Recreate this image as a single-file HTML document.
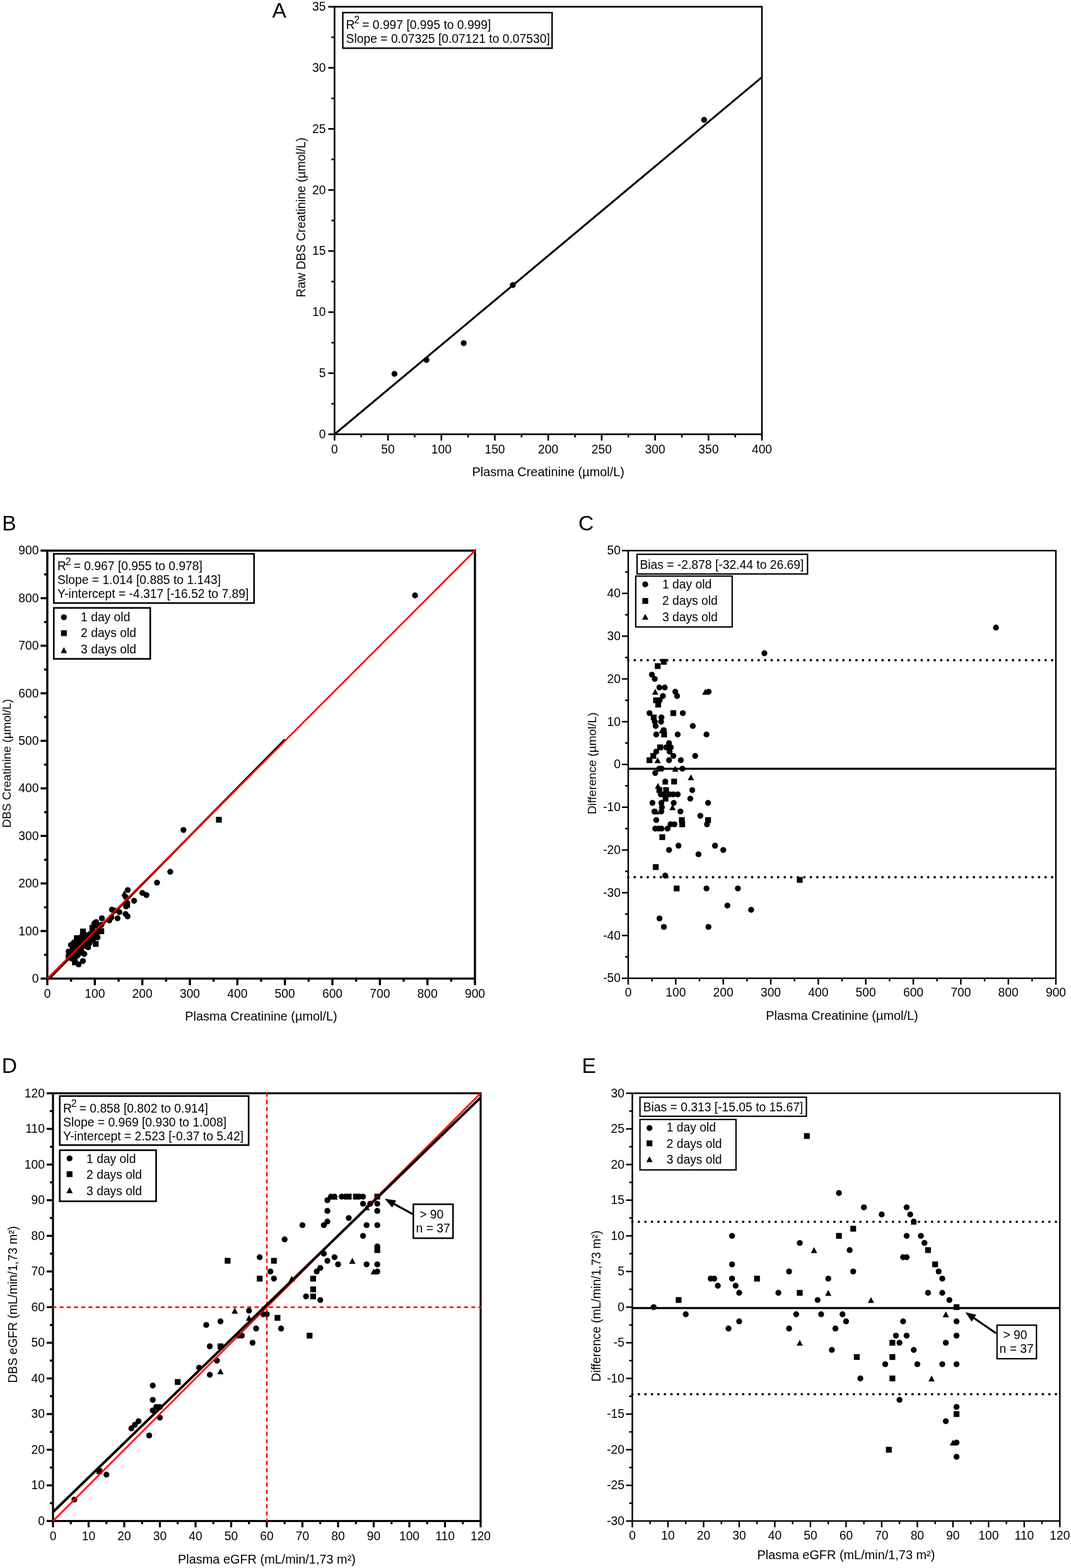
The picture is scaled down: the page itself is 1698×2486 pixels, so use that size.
<!DOCTYPE html><html><head><meta charset="utf-8"><style>html,body{margin:0;padding:0;background:#fff;}svg{display:block;}</style></head><body>
<svg width="1698" height="2486" viewBox="0 0 1698 2486" font-family="'Liberation Sans', Arial, sans-serif" fill="#000">
<rect width="1698" height="2486" fill="#fff"/>
<text x="431.6" y="27.9" font-size="33.7" text-anchor="start" >A</text>
<rect x="530.4" y="10.7" width="677.6" height="677.8" fill="none" stroke="#000" stroke-width="2.6" stroke-linejoin="miter"/>
<line x1="530.4" y1="688.5" x2="530.4" y2="698.5" stroke="#000" stroke-width="2.6" />
<text x="530.4" y="718.5" font-size="19.3" text-anchor="middle" >0</text>
<line x1="572.75" y1="688.5" x2="572.75" y2="693.5" stroke="#000" stroke-width="2.6" />
<line x1="615.1" y1="688.5" x2="615.1" y2="698.5" stroke="#000" stroke-width="2.6" />
<text x="615.1" y="718.5" font-size="19.3" text-anchor="middle" >50</text>
<line x1="657.45" y1="688.5" x2="657.45" y2="693.5" stroke="#000" stroke-width="2.6" />
<line x1="699.8" y1="688.5" x2="699.8" y2="698.5" stroke="#000" stroke-width="2.6" />
<text x="699.8" y="718.5" font-size="19.3" text-anchor="middle" >100</text>
<line x1="742.15" y1="688.5" x2="742.15" y2="693.5" stroke="#000" stroke-width="2.6" />
<line x1="784.5" y1="688.5" x2="784.5" y2="698.5" stroke="#000" stroke-width="2.6" />
<text x="784.5" y="718.5" font-size="19.3" text-anchor="middle" >150</text>
<line x1="826.85" y1="688.5" x2="826.85" y2="693.5" stroke="#000" stroke-width="2.6" />
<line x1="869.2" y1="688.5" x2="869.2" y2="698.5" stroke="#000" stroke-width="2.6" />
<text x="869.2" y="718.5" font-size="19.3" text-anchor="middle" >200</text>
<line x1="911.55" y1="688.5" x2="911.55" y2="693.5" stroke="#000" stroke-width="2.6" />
<line x1="953.9" y1="688.5" x2="953.9" y2="698.5" stroke="#000" stroke-width="2.6" />
<text x="953.9" y="718.5" font-size="19.3" text-anchor="middle" >250</text>
<line x1="996.25" y1="688.5" x2="996.25" y2="693.5" stroke="#000" stroke-width="2.6" />
<line x1="1038.6" y1="688.5" x2="1038.6" y2="698.5" stroke="#000" stroke-width="2.6" />
<text x="1038.6" y="718.5" font-size="19.3" text-anchor="middle" >300</text>
<line x1="1080.95" y1="688.5" x2="1080.95" y2="693.5" stroke="#000" stroke-width="2.6" />
<line x1="1123.3" y1="688.5" x2="1123.3" y2="698.5" stroke="#000" stroke-width="2.6" />
<text x="1123.3" y="718.5" font-size="19.3" text-anchor="middle" >350</text>
<line x1="1165.65" y1="688.5" x2="1165.65" y2="693.5" stroke="#000" stroke-width="2.6" />
<line x1="1208" y1="688.5" x2="1208" y2="698.5" stroke="#000" stroke-width="2.6" />
<text x="1208" y="718.5" font-size="19.3" text-anchor="middle" >400</text>
<line x1="520.4" y1="688.5" x2="530.4" y2="688.5" stroke="#000" stroke-width="2.6" />
<text x="516.4" y="694.9" font-size="19.3" text-anchor="end" >0</text>
<line x1="525.4" y1="640.09" x2="530.4" y2="640.09" stroke="#000" stroke-width="2.6" />
<line x1="520.4" y1="591.67" x2="530.4" y2="591.67" stroke="#000" stroke-width="2.6" />
<text x="516.4" y="598.07" font-size="19.3" text-anchor="end" >5</text>
<line x1="525.4" y1="543.26" x2="530.4" y2="543.26" stroke="#000" stroke-width="2.6" />
<line x1="520.4" y1="494.84" x2="530.4" y2="494.84" stroke="#000" stroke-width="2.6" />
<text x="516.4" y="501.24" font-size="19.3" text-anchor="end" >10</text>
<line x1="525.4" y1="446.43" x2="530.4" y2="446.43" stroke="#000" stroke-width="2.6" />
<line x1="520.4" y1="398.01" x2="530.4" y2="398.01" stroke="#000" stroke-width="2.6" />
<text x="516.4" y="404.41" font-size="19.3" text-anchor="end" >15</text>
<line x1="525.4" y1="349.6" x2="530.4" y2="349.6" stroke="#000" stroke-width="2.6" />
<line x1="520.4" y1="301.19" x2="530.4" y2="301.19" stroke="#000" stroke-width="2.6" />
<text x="516.4" y="307.59" font-size="19.3" text-anchor="end" >20</text>
<line x1="525.4" y1="252.77" x2="530.4" y2="252.77" stroke="#000" stroke-width="2.6" />
<line x1="520.4" y1="204.36" x2="530.4" y2="204.36" stroke="#000" stroke-width="2.6" />
<text x="516.4" y="210.76" font-size="19.3" text-anchor="end" >25</text>
<line x1="525.4" y1="155.94" x2="530.4" y2="155.94" stroke="#000" stroke-width="2.6" />
<line x1="520.4" y1="107.53" x2="530.4" y2="107.53" stroke="#000" stroke-width="2.6" />
<text x="516.4" y="113.93" font-size="19.3" text-anchor="end" >30</text>
<line x1="525.4" y1="59.11" x2="530.4" y2="59.11" stroke="#000" stroke-width="2.6" />
<line x1="520.4" y1="10.7" x2="530.4" y2="10.7" stroke="#000" stroke-width="2.6" />
<text x="516.4" y="17.1" font-size="19.3" text-anchor="end" >35</text>
<line x1="530.4" y1="688.5" x2="1208" y2="122.3" stroke="#000" stroke-width="3" />
<circle cx="625.4" cy="592.8" r="4.7"/>
<circle cx="676.2" cy="570.7" r="4.7"/>
<circle cx="735.2" cy="544" r="4.7"/>
<circle cx="813" cy="452" r="4.7"/>
<circle cx="1116.3" cy="190" r="4.7"/>
<rect x="543.5" y="20" width="331.8" height="56.4" fill="none" stroke="#000" stroke-width="2.4"/>
<text x="548.6" y="45.9" font-size="19.3">R<tspan font-size="15.8" dx="-1.3" dy="-8.6">2</tspan><tspan dy="8.6" dx="-1.2"> </tspan>= 0.997 [0.995 to 0.999]</text>
<text x="548.6" y="67.9" font-size="19.3" text-anchor="start" >Slope = 0.07325 [0.07121 to 0.07530]</text>
<text x="869.2" y="754.85" font-size="19.9" text-anchor="middle" >Plasma Creatinine (µmol/L)</text>
<text x="484" y="344.6" font-size="19.3" text-anchor="middle" transform="rotate(-90 484 344.6)">Raw DBS Creatinine (µmol/L)</text>
<text x="3.3" y="840.8" font-size="33.7" text-anchor="start" >B</text>
<rect x="75" y="873" width="678" height="678.5" fill="none" stroke="#000" stroke-width="3.4" stroke-linejoin="miter"/>
<line x1="75" y1="1551.5" x2="75" y2="1562.1" stroke="#000" stroke-width="3.4" />
<text x="75" y="1581.6" font-size="19.3" text-anchor="middle" >0</text>
<line x1="112.67" y1="1551.5" x2="112.67" y2="1556.5" stroke="#000" stroke-width="3.4" />
<line x1="150.33" y1="1551.5" x2="150.33" y2="1562.1" stroke="#000" stroke-width="3.4" />
<text x="150.33" y="1581.6" font-size="19.3" text-anchor="middle" >100</text>
<line x1="188" y1="1551.5" x2="188" y2="1556.5" stroke="#000" stroke-width="3.4" />
<line x1="225.67" y1="1551.5" x2="225.67" y2="1562.1" stroke="#000" stroke-width="3.4" />
<text x="225.67" y="1581.6" font-size="19.3" text-anchor="middle" >200</text>
<line x1="263.33" y1="1551.5" x2="263.33" y2="1556.5" stroke="#000" stroke-width="3.4" />
<line x1="301" y1="1551.5" x2="301" y2="1562.1" stroke="#000" stroke-width="3.4" />
<text x="301" y="1581.6" font-size="19.3" text-anchor="middle" >300</text>
<line x1="338.67" y1="1551.5" x2="338.67" y2="1556.5" stroke="#000" stroke-width="3.4" />
<line x1="376.33" y1="1551.5" x2="376.33" y2="1562.1" stroke="#000" stroke-width="3.4" />
<text x="376.33" y="1581.6" font-size="19.3" text-anchor="middle" >400</text>
<line x1="414" y1="1551.5" x2="414" y2="1556.5" stroke="#000" stroke-width="3.4" />
<line x1="451.67" y1="1551.5" x2="451.67" y2="1562.1" stroke="#000" stroke-width="3.4" />
<text x="451.67" y="1581.6" font-size="19.3" text-anchor="middle" >500</text>
<line x1="489.33" y1="1551.5" x2="489.33" y2="1556.5" stroke="#000" stroke-width="3.4" />
<line x1="527" y1="1551.5" x2="527" y2="1562.1" stroke="#000" stroke-width="3.4" />
<text x="527" y="1581.6" font-size="19.3" text-anchor="middle" >600</text>
<line x1="564.67" y1="1551.5" x2="564.67" y2="1556.5" stroke="#000" stroke-width="3.4" />
<line x1="602.33" y1="1551.5" x2="602.33" y2="1562.1" stroke="#000" stroke-width="3.4" />
<text x="602.33" y="1581.6" font-size="19.3" text-anchor="middle" >700</text>
<line x1="640" y1="1551.5" x2="640" y2="1556.5" stroke="#000" stroke-width="3.4" />
<line x1="677.67" y1="1551.5" x2="677.67" y2="1562.1" stroke="#000" stroke-width="3.4" />
<text x="677.67" y="1581.6" font-size="19.3" text-anchor="middle" >800</text>
<line x1="715.33" y1="1551.5" x2="715.33" y2="1556.5" stroke="#000" stroke-width="3.4" />
<line x1="753" y1="1551.5" x2="753" y2="1562.1" stroke="#000" stroke-width="3.4" />
<text x="753" y="1581.6" font-size="19.3" text-anchor="middle" >900</text>
<line x1="64.4" y1="1551.5" x2="75" y2="1551.5" stroke="#000" stroke-width="3.4" />
<text x="61.4" y="1557.9" font-size="19.3" text-anchor="end" >0</text>
<line x1="70" y1="1513.81" x2="75" y2="1513.81" stroke="#000" stroke-width="3.4" />
<line x1="64.4" y1="1476.11" x2="75" y2="1476.11" stroke="#000" stroke-width="3.4" />
<text x="61.4" y="1482.51" font-size="19.3" text-anchor="end" >100</text>
<line x1="70" y1="1438.42" x2="75" y2="1438.42" stroke="#000" stroke-width="3.4" />
<line x1="64.4" y1="1400.72" x2="75" y2="1400.72" stroke="#000" stroke-width="3.4" />
<text x="61.4" y="1407.12" font-size="19.3" text-anchor="end" >200</text>
<line x1="70" y1="1363.03" x2="75" y2="1363.03" stroke="#000" stroke-width="3.4" />
<line x1="64.4" y1="1325.33" x2="75" y2="1325.33" stroke="#000" stroke-width="3.4" />
<text x="61.4" y="1331.73" font-size="19.3" text-anchor="end" >300</text>
<line x1="70" y1="1287.64" x2="75" y2="1287.64" stroke="#000" stroke-width="3.4" />
<line x1="64.4" y1="1249.94" x2="75" y2="1249.94" stroke="#000" stroke-width="3.4" />
<text x="61.4" y="1256.34" font-size="19.3" text-anchor="end" >400</text>
<line x1="70" y1="1212.25" x2="75" y2="1212.25" stroke="#000" stroke-width="3.4" />
<line x1="64.4" y1="1174.56" x2="75" y2="1174.56" stroke="#000" stroke-width="3.4" />
<text x="61.4" y="1180.96" font-size="19.3" text-anchor="end" >500</text>
<line x1="70" y1="1136.86" x2="75" y2="1136.86" stroke="#000" stroke-width="3.4" />
<line x1="64.4" y1="1099.17" x2="75" y2="1099.17" stroke="#000" stroke-width="3.4" />
<text x="61.4" y="1105.57" font-size="19.3" text-anchor="end" >600</text>
<line x1="70" y1="1061.47" x2="75" y2="1061.47" stroke="#000" stroke-width="3.4" />
<line x1="64.4" y1="1023.78" x2="75" y2="1023.78" stroke="#000" stroke-width="3.4" />
<text x="61.4" y="1030.18" font-size="19.3" text-anchor="end" >700</text>
<line x1="70" y1="986.08" x2="75" y2="986.08" stroke="#000" stroke-width="3.4" />
<line x1="64.4" y1="948.39" x2="75" y2="948.39" stroke="#000" stroke-width="3.4" />
<text x="61.4" y="954.79" font-size="19.3" text-anchor="end" >800</text>
<line x1="70" y1="910.69" x2="75" y2="910.69" stroke="#000" stroke-width="3.4" />
<line x1="64.4" y1="873" x2="75" y2="873" stroke="#000" stroke-width="3.4" />
<text x="61.4" y="879.4" font-size="19.3" text-anchor="end" >900</text>
<g>
<rect x="126.9" y="1472.27" width="9.2" height="9.2"/>
<rect x="117.2" y="1482.73" width="9.2" height="9.2"/>
<circle cx="112.5" cy="1498.14" r="4.7"/>
<circle cx="117.1" cy="1494.29" r="4.7"/>
<circle cx="124.4" cy="1488.49" r="4.7"/>
<circle cx="132.9" cy="1479.99" r="4.7"/>
<path d="M117.8 1491.15L122.8 1500.55L112.8 1500.55Z"/>
<circle cx="149.6" cy="1464.03" r="4.7"/>
<path d="M197.2 1411.69L202.2 1421.09L192.2 1421.09Z"/>
<circle cx="202.5" cy="1411.09" r="4.7"/>
<circle cx="130" cy="1484.4" r="4.7"/>
<circle cx="152.5" cy="1461.88" r="4.7"/>
<rect x="114.5" y="1491.46" width="9.2" height="9.2"/>
<circle cx="124.9" cy="1490.25" r="4.7"/>
<rect x="117.9" y="1488.81" width="9.2" height="9.2"/>
<circle cx="108.8" cy="1508.63" r="4.7"/>
<rect x="141.9" y="1466.3" width="9.2" height="9.2"/>
<circle cx="161.5" cy="1455.89" r="4.7"/>
<rect x="110.8" y="1498.18" width="9.2" height="9.2"/>
<circle cx="127.7" cy="1490.47" r="4.7"/>
<circle cx="117.1" cy="1501.83" r="4.7"/>
<circle cx="127.1" cy="1491.82" r="4.7"/>
<circle cx="118.5" cy="1501.18" r="4.7"/>
<circle cx="177.4" cy="1442.24" r="4.7"/>
<path d="M128.4 1487.33L133.4 1496.73L123.4 1496.73Z"/>
<circle cx="131.5" cy="1488.93" r="4.7"/>
<circle cx="119.4" cy="1501.79" r="4.7"/>
<rect x="127.3" y="1484.68" width="9.2" height="9.2"/>
<circle cx="153.4" cy="1467.76" r="4.7"/>
<circle cx="199.1" cy="1422.03" r="4.7"/>
<circle cx="139.7" cy="1482.98" r="4.7"/>
<rect x="120.9" y="1493.35" width="9.2" height="9.2"/>
<circle cx="135" cy="1488.44" r="4.7"/>
<circle cx="142.5" cy="1480.93" r="4.7"/>
<circle cx="119.4" cy="1504.81" r="4.7"/>
<circle cx="140.5" cy="1483.69" r="4.7"/>
<rect x="110.1" y="1505.66" width="9.2" height="9.2"/>
<circle cx="146.5" cy="1478.44" r="4.7"/>
<circle cx="181.2" cy="1443.71" r="4.7"/>
<rect x="104.1" y="1512.42" width="9.2" height="9.2"/>
<path d="M121.6 1499.41L126.6 1508.81L116.6 1508.81Z"/>
<circle cx="139.7" cy="1486" r="4.7"/>
<circle cx="158.4" cy="1467.28" r="4.7"/>
<circle cx="124" cy="1503.22" r="4.7"/>
<circle cx="128" cy="1499.21" r="4.7"/>
<path d="M149.6 1472.9L154.6 1482.3L144.6 1482.3Z"/>
<circle cx="160.9" cy="1466.29" r="4.7"/>
<circle cx="117.8" cy="1510.18" r="4.7"/>
<path d="M174.4 1449.59L179.4 1458.99L169.4 1458.99Z"/>
<path d="M133.7 1491.07L138.7 1500.47L128.7 1500.47Z"/>
<circle cx="133.7" cy="1495.77" r="4.7"/>
<rect x="143.2" y="1477.06" width="9.2" height="9.2"/>
<path d="M122.2 1503.33L127.2 1512.73L117.2 1512.73Z"/>
<rect x="119.8" y="1501.99" width="9.2" height="9.2"/>
<rect x="130.4" y="1491.38" width="9.2" height="9.2"/>
<circle cx="176.5" cy="1454.45" r="4.7"/>
<circle cx="126.6" cy="1505.14" r="4.7"/>
<circle cx="132" cy="1499.74" r="4.7"/>
<circle cx="140.8" cy="1490.93" r="4.7"/>
<circle cx="146.5" cy="1485.22" r="4.7"/>
<circle cx="153.5" cy="1478.22" r="4.7"/>
<rect x="129.5" y="1493.79" width="9.2" height="9.2"/>
<circle cx="173.4" cy="1459.06" r="4.7"/>
<circle cx="113.4" cy="1519.86" r="4.7"/>
<circle cx="127.5" cy="1505.75" r="4.7"/>
<circle cx="147.2" cy="1486.03" r="4.7"/>
<circle cx="201.6" cy="1431.59" r="4.7"/>
<circle cx="128.4" cy="1505.6" r="4.7"/>
<path d="M145.2 1484.09L150.2 1493.49L140.2 1493.49Z"/>
<path d="M119.6 1510.46L124.6 1519.86L114.6 1519.86Z"/>
<circle cx="116.5" cy="1518.26" r="4.7"/>
<circle cx="127.5" cy="1507.25" r="4.7"/>
<circle cx="157.8" cy="1476.93" r="4.7"/>
<circle cx="189.3" cy="1446.16" r="4.7"/>
<circle cx="119.4" cy="1516.87" r="4.7"/>
<rect x="155.4" y="1471.64" width="9.2" height="9.2"/>
<rect x="197" y="1430.01" width="9.2" height="9.2"/>
<circle cx="142.1" cy="1494.9" r="4.7"/>
<circle cx="148.2" cy="1488.8" r="4.7"/>
<rect x="156" y="1471.79" width="9.2" height="9.2"/>
<circle cx="199.9" cy="1437.06" r="4.7"/>
<circle cx="117.8" cy="1519.98" r="4.7"/>
<circle cx="123.1" cy="1514.67" r="4.7"/>
<circle cx="128" cy="1509.77" r="4.7"/>
<circle cx="137.4" cy="1500.36" r="4.7"/>
<rect x="124.4" y="1505.68" width="9.2" height="9.2"/>
<circle cx="154.7" cy="1486.07" r="4.7"/>
<circle cx="212.6" cy="1428.12" r="4.7"/>
<circle cx="139.7" cy="1501.83" r="4.7"/>
<circle cx="225.7" cy="1415.77" r="4.7"/>
<circle cx="186.4" cy="1455.85" r="4.7"/>
<rect x="114.1" y="1521.26" width="9.2" height="9.2"/>
<circle cx="133.7" cy="1512.36" r="4.7"/>
<rect x="342.4" y="1295.05" width="9.2" height="9.2"/>
<rect x="147.2" y="1491.91" width="9.2" height="9.2"/>
<circle cx="199.1" cy="1449.17" r="4.7"/>
<circle cx="248.9" cy="1399.33" r="4.7"/>
<circle cx="232.2" cy="1419.06" r="4.7"/>
<circle cx="269.9" cy="1382.09" r="4.7"/>
<circle cx="124.6" cy="1529" r="4.7"/>
<circle cx="131.5" cy="1523.61" r="4.7"/>
<circle cx="202.2" cy="1452.85" r="4.7"/>
<circle cx="290.9" cy="1315.84" r="4.7"/>
<circle cx="658" cy="943.95" r="4.7"/>
</g>
<line x1="78.21" y1="1551.5" x2="451.67" y2="1172.53" stroke="#000" stroke-width="3.3" />
<line x1="75" y1="1551.5" x2="753" y2="873" stroke="#ff0000" stroke-width="2.6" />
<rect x="85.3" y="878.1" width="317.5" height="78" fill="none" stroke="#000" stroke-width="2.6"/>
<text x="91.1" y="904.1" font-size="19.3">R<tspan font-size="15.8" dx="-1.3" dy="-8.6">2</tspan><tspan dy="8.6" dx="-1.2"> </tspan>= 0.967 [0.955 to 0.978]</text>
<text x="91.1" y="925.8" font-size="19.3" text-anchor="start" >Slope = 1.014 [0.885 to 1.143]</text>
<text x="91.1" y="947.6" font-size="19.3" text-anchor="start" >Y-intercept = -4.317 [-16.52 to 7.89]</text>
<rect x="85.3" y="963.8" width="152.9" height="80.8" fill="none" stroke="#000" stroke-width="2.6"/>
<circle cx="101.3" cy="978.6" r="4.7"/>
<text x="128.1" y="984.6" font-size="19.3" text-anchor="start" >1 day old</text>
<rect x="96.7" y="999.3" width="9.2" height="9.2"/>
<text x="128.1" y="1010.3" font-size="19.3" text-anchor="start" >2 days old</text>
<path d="M101.3 1026L106.3 1035.4L96.3 1035.4Z"/>
<text x="128.1" y="1036" font-size="19.3" text-anchor="start" >3 days old</text>
<text x="414" y="1617.9" font-size="19.9" text-anchor="middle" >Plasma Creatinine (µmol/L)</text>
<text x="17.5" y="1210.3" font-size="18.8" text-anchor="middle" transform="rotate(-90 17.5 1210.3)">DBS Creatinine (µmol/L)</text>
<text x="916.9" y="841" font-size="33.7" text-anchor="start" >C</text>
<rect x="996" y="873" width="678" height="678" fill="none" stroke="#000" stroke-width="2.4" stroke-linejoin="miter"/>
<line x1="996" y1="1551" x2="996" y2="1561" stroke="#000" stroke-width="2.4" />
<text x="996" y="1580.4" font-size="19.3" text-anchor="middle" >0</text>
<line x1="1033.67" y1="1551" x2="1033.67" y2="1556" stroke="#000" stroke-width="2.4" />
<line x1="1071.33" y1="1551" x2="1071.33" y2="1561" stroke="#000" stroke-width="2.4" />
<text x="1071.33" y="1580.4" font-size="19.3" text-anchor="middle" >100</text>
<line x1="1109" y1="1551" x2="1109" y2="1556" stroke="#000" stroke-width="2.4" />
<line x1="1146.67" y1="1551" x2="1146.67" y2="1561" stroke="#000" stroke-width="2.4" />
<text x="1146.67" y="1580.4" font-size="19.3" text-anchor="middle" >200</text>
<line x1="1184.33" y1="1551" x2="1184.33" y2="1556" stroke="#000" stroke-width="2.4" />
<line x1="1222" y1="1551" x2="1222" y2="1561" stroke="#000" stroke-width="2.4" />
<text x="1222" y="1580.4" font-size="19.3" text-anchor="middle" >300</text>
<line x1="1259.67" y1="1551" x2="1259.67" y2="1556" stroke="#000" stroke-width="2.4" />
<line x1="1297.33" y1="1551" x2="1297.33" y2="1561" stroke="#000" stroke-width="2.4" />
<text x="1297.33" y="1580.4" font-size="19.3" text-anchor="middle" >400</text>
<line x1="1335" y1="1551" x2="1335" y2="1556" stroke="#000" stroke-width="2.4" />
<line x1="1372.67" y1="1551" x2="1372.67" y2="1561" stroke="#000" stroke-width="2.4" />
<text x="1372.67" y="1580.4" font-size="19.3" text-anchor="middle" >500</text>
<line x1="1410.33" y1="1551" x2="1410.33" y2="1556" stroke="#000" stroke-width="2.4" />
<line x1="1448" y1="1551" x2="1448" y2="1561" stroke="#000" stroke-width="2.4" />
<text x="1448" y="1580.4" font-size="19.3" text-anchor="middle" >600</text>
<line x1="1485.67" y1="1551" x2="1485.67" y2="1556" stroke="#000" stroke-width="2.4" />
<line x1="1523.33" y1="1551" x2="1523.33" y2="1561" stroke="#000" stroke-width="2.4" />
<text x="1523.33" y="1580.4" font-size="19.3" text-anchor="middle" >700</text>
<line x1="1561" y1="1551" x2="1561" y2="1556" stroke="#000" stroke-width="2.4" />
<line x1="1598.67" y1="1551" x2="1598.67" y2="1561" stroke="#000" stroke-width="2.4" />
<text x="1598.67" y="1580.4" font-size="19.3" text-anchor="middle" >800</text>
<line x1="1636.33" y1="1551" x2="1636.33" y2="1556" stroke="#000" stroke-width="2.4" />
<line x1="1674" y1="1551" x2="1674" y2="1561" stroke="#000" stroke-width="2.4" />
<text x="1674" y="1580.4" font-size="19.3" text-anchor="middle" >900</text>
<line x1="986" y1="1551" x2="996" y2="1551" stroke="#000" stroke-width="2.4" />
<text x="984" y="1557.4" font-size="19.3" text-anchor="end" >-50</text>
<line x1="991" y1="1517.1" x2="996" y2="1517.1" stroke="#000" stroke-width="2.4" />
<line x1="986" y1="1483.2" x2="996" y2="1483.2" stroke="#000" stroke-width="2.4" />
<text x="984" y="1489.6" font-size="19.3" text-anchor="end" >-40</text>
<line x1="991" y1="1449.3" x2="996" y2="1449.3" stroke="#000" stroke-width="2.4" />
<line x1="986" y1="1415.4" x2="996" y2="1415.4" stroke="#000" stroke-width="2.4" />
<text x="984" y="1421.8" font-size="19.3" text-anchor="end" >-30</text>
<line x1="991" y1="1381.5" x2="996" y2="1381.5" stroke="#000" stroke-width="2.4" />
<line x1="986" y1="1347.6" x2="996" y2="1347.6" stroke="#000" stroke-width="2.4" />
<text x="984" y="1354" font-size="19.3" text-anchor="end" >-20</text>
<line x1="991" y1="1313.7" x2="996" y2="1313.7" stroke="#000" stroke-width="2.4" />
<line x1="986" y1="1279.8" x2="996" y2="1279.8" stroke="#000" stroke-width="2.4" />
<text x="984" y="1286.2" font-size="19.3" text-anchor="end" >-10</text>
<line x1="991" y1="1245.9" x2="996" y2="1245.9" stroke="#000" stroke-width="2.4" />
<line x1="986" y1="1212" x2="996" y2="1212" stroke="#000" stroke-width="2.4" />
<text x="984" y="1218.4" font-size="19.3" text-anchor="end" >0</text>
<line x1="991" y1="1178.1" x2="996" y2="1178.1" stroke="#000" stroke-width="2.4" />
<line x1="986" y1="1144.2" x2="996" y2="1144.2" stroke="#000" stroke-width="2.4" />
<text x="984" y="1150.6" font-size="19.3" text-anchor="end" >10</text>
<line x1="991" y1="1110.3" x2="996" y2="1110.3" stroke="#000" stroke-width="2.4" />
<line x1="986" y1="1076.4" x2="996" y2="1076.4" stroke="#000" stroke-width="2.4" />
<text x="984" y="1082.8" font-size="19.3" text-anchor="end" >20</text>
<line x1="991" y1="1042.5" x2="996" y2="1042.5" stroke="#000" stroke-width="2.4" />
<line x1="986" y1="1008.6" x2="996" y2="1008.6" stroke="#000" stroke-width="2.4" />
<text x="984" y="1015" font-size="19.3" text-anchor="end" >30</text>
<line x1="991" y1="974.7" x2="996" y2="974.7" stroke="#000" stroke-width="2.4" />
<line x1="986" y1="940.8" x2="996" y2="940.8" stroke="#000" stroke-width="2.4" />
<text x="984" y="947.2" font-size="19.3" text-anchor="end" >40</text>
<line x1="991" y1="906.9" x2="996" y2="906.9" stroke="#000" stroke-width="2.4" />
<line x1="986" y1="873" x2="996" y2="873" stroke="#000" stroke-width="2.4" />
<text x="984" y="879.4" font-size="19.3" text-anchor="end" >50</text>
<g><circle cx="996" cy="1046.8" r="1.95"/><circle cx="1006.34" cy="1046.8" r="1.95"/><circle cx="1016.68" cy="1046.8" r="1.95"/><circle cx="1027.02" cy="1046.8" r="1.95"/><circle cx="1037.36" cy="1046.8" r="1.95"/><circle cx="1047.7" cy="1046.8" r="1.95"/><circle cx="1058.04" cy="1046.8" r="1.95"/><circle cx="1068.38" cy="1046.8" r="1.95"/><circle cx="1078.72" cy="1046.8" r="1.95"/><circle cx="1089.06" cy="1046.8" r="1.95"/><circle cx="1099.4" cy="1046.8" r="1.95"/><circle cx="1109.74" cy="1046.8" r="1.95"/><circle cx="1120.08" cy="1046.8" r="1.95"/><circle cx="1130.42" cy="1046.8" r="1.95"/><circle cx="1140.76" cy="1046.8" r="1.95"/><circle cx="1151.1" cy="1046.8" r="1.95"/><circle cx="1161.44" cy="1046.8" r="1.95"/><circle cx="1171.78" cy="1046.8" r="1.95"/><circle cx="1182.12" cy="1046.8" r="1.95"/><circle cx="1192.46" cy="1046.8" r="1.95"/><circle cx="1202.8" cy="1046.8" r="1.95"/><circle cx="1213.14" cy="1046.8" r="1.95"/><circle cx="1223.48" cy="1046.8" r="1.95"/><circle cx="1233.82" cy="1046.8" r="1.95"/><circle cx="1244.16" cy="1046.8" r="1.95"/><circle cx="1254.5" cy="1046.8" r="1.95"/><circle cx="1264.84" cy="1046.8" r="1.95"/><circle cx="1275.18" cy="1046.8" r="1.95"/><circle cx="1285.52" cy="1046.8" r="1.95"/><circle cx="1295.86" cy="1046.8" r="1.95"/><circle cx="1306.2" cy="1046.8" r="1.95"/><circle cx="1316.54" cy="1046.8" r="1.95"/><circle cx="1326.88" cy="1046.8" r="1.95"/><circle cx="1337.22" cy="1046.8" r="1.95"/><circle cx="1347.56" cy="1046.8" r="1.95"/><circle cx="1357.9" cy="1046.8" r="1.95"/><circle cx="1368.24" cy="1046.8" r="1.95"/><circle cx="1378.58" cy="1046.8" r="1.95"/><circle cx="1388.92" cy="1046.8" r="1.95"/><circle cx="1399.26" cy="1046.8" r="1.95"/><circle cx="1409.6" cy="1046.8" r="1.95"/><circle cx="1419.94" cy="1046.8" r="1.95"/><circle cx="1430.28" cy="1046.8" r="1.95"/><circle cx="1440.62" cy="1046.8" r="1.95"/><circle cx="1450.96" cy="1046.8" r="1.95"/><circle cx="1461.3" cy="1046.8" r="1.95"/><circle cx="1471.64" cy="1046.8" r="1.95"/><circle cx="1481.98" cy="1046.8" r="1.95"/><circle cx="1492.32" cy="1046.8" r="1.95"/><circle cx="1502.66" cy="1046.8" r="1.95"/><circle cx="1513" cy="1046.8" r="1.95"/><circle cx="1523.34" cy="1046.8" r="1.95"/><circle cx="1533.68" cy="1046.8" r="1.95"/><circle cx="1544.02" cy="1046.8" r="1.95"/><circle cx="1554.36" cy="1046.8" r="1.95"/><circle cx="1564.7" cy="1046.8" r="1.95"/><circle cx="1575.04" cy="1046.8" r="1.95"/><circle cx="1585.38" cy="1046.8" r="1.95"/><circle cx="1595.72" cy="1046.8" r="1.95"/><circle cx="1606.06" cy="1046.8" r="1.95"/><circle cx="1616.4" cy="1046.8" r="1.95"/><circle cx="1626.74" cy="1046.8" r="1.95"/><circle cx="1637.08" cy="1046.8" r="1.95"/><circle cx="1647.42" cy="1046.8" r="1.95"/><circle cx="1657.76" cy="1046.8" r="1.95"/><circle cx="1668.1" cy="1046.8" r="1.95"/></g>
<g><circle cx="996" cy="1390.7" r="1.95"/><circle cx="1006.34" cy="1390.7" r="1.95"/><circle cx="1016.68" cy="1390.7" r="1.95"/><circle cx="1027.02" cy="1390.7" r="1.95"/><circle cx="1037.36" cy="1390.7" r="1.95"/><circle cx="1047.7" cy="1390.7" r="1.95"/><circle cx="1058.04" cy="1390.7" r="1.95"/><circle cx="1068.38" cy="1390.7" r="1.95"/><circle cx="1078.72" cy="1390.7" r="1.95"/><circle cx="1089.06" cy="1390.7" r="1.95"/><circle cx="1099.4" cy="1390.7" r="1.95"/><circle cx="1109.74" cy="1390.7" r="1.95"/><circle cx="1120.08" cy="1390.7" r="1.95"/><circle cx="1130.42" cy="1390.7" r="1.95"/><circle cx="1140.76" cy="1390.7" r="1.95"/><circle cx="1151.1" cy="1390.7" r="1.95"/><circle cx="1161.44" cy="1390.7" r="1.95"/><circle cx="1171.78" cy="1390.7" r="1.95"/><circle cx="1182.12" cy="1390.7" r="1.95"/><circle cx="1192.46" cy="1390.7" r="1.95"/><circle cx="1202.8" cy="1390.7" r="1.95"/><circle cx="1213.14" cy="1390.7" r="1.95"/><circle cx="1223.48" cy="1390.7" r="1.95"/><circle cx="1233.82" cy="1390.7" r="1.95"/><circle cx="1244.16" cy="1390.7" r="1.95"/><circle cx="1254.5" cy="1390.7" r="1.95"/><circle cx="1264.84" cy="1390.7" r="1.95"/><circle cx="1275.18" cy="1390.7" r="1.95"/><circle cx="1285.52" cy="1390.7" r="1.95"/><circle cx="1295.86" cy="1390.7" r="1.95"/><circle cx="1306.2" cy="1390.7" r="1.95"/><circle cx="1316.54" cy="1390.7" r="1.95"/><circle cx="1326.88" cy="1390.7" r="1.95"/><circle cx="1337.22" cy="1390.7" r="1.95"/><circle cx="1347.56" cy="1390.7" r="1.95"/><circle cx="1357.9" cy="1390.7" r="1.95"/><circle cx="1368.24" cy="1390.7" r="1.95"/><circle cx="1378.58" cy="1390.7" r="1.95"/><circle cx="1388.92" cy="1390.7" r="1.95"/><circle cx="1399.26" cy="1390.7" r="1.95"/><circle cx="1409.6" cy="1390.7" r="1.95"/><circle cx="1419.94" cy="1390.7" r="1.95"/><circle cx="1430.28" cy="1390.7" r="1.95"/><circle cx="1440.62" cy="1390.7" r="1.95"/><circle cx="1450.96" cy="1390.7" r="1.95"/><circle cx="1461.3" cy="1390.7" r="1.95"/><circle cx="1471.64" cy="1390.7" r="1.95"/><circle cx="1481.98" cy="1390.7" r="1.95"/><circle cx="1492.32" cy="1390.7" r="1.95"/><circle cx="1502.66" cy="1390.7" r="1.95"/><circle cx="1513" cy="1390.7" r="1.95"/><circle cx="1523.34" cy="1390.7" r="1.95"/><circle cx="1533.68" cy="1390.7" r="1.95"/><circle cx="1544.02" cy="1390.7" r="1.95"/><circle cx="1554.36" cy="1390.7" r="1.95"/><circle cx="1564.7" cy="1390.7" r="1.95"/><circle cx="1575.04" cy="1390.7" r="1.95"/><circle cx="1585.38" cy="1390.7" r="1.95"/><circle cx="1595.72" cy="1390.7" r="1.95"/><circle cx="1606.06" cy="1390.7" r="1.95"/><circle cx="1616.4" cy="1390.7" r="1.95"/><circle cx="1626.74" cy="1390.7" r="1.95"/><circle cx="1637.08" cy="1390.7" r="1.95"/><circle cx="1647.42" cy="1390.7" r="1.95"/><circle cx="1657.76" cy="1390.7" r="1.95"/><circle cx="1668.1" cy="1390.7" r="1.95"/></g>
<line x1="996" y1="1218.8" x2="1674" y2="1218.8" stroke="#000" stroke-width="3.2" />
<g>
<rect x="1047.9" y="1044.68" width="9.2" height="9.2"/>
<rect x="1038.2" y="1051.46" width="9.2" height="9.2"/>
<circle cx="1033.5" cy="1069.62" r="4.7"/>
<circle cx="1038.1" cy="1076.4" r="4.7"/>
<circle cx="1045.4" cy="1089.96" r="4.7"/>
<circle cx="1053.9" cy="1089.96" r="4.7"/>
<path d="M1038.8 1092.04L1043.8 1101.44L1033.8 1101.44Z"/>
<circle cx="1070.6" cy="1096.74" r="4.7"/>
<path d="M1118.2 1092.04L1123.2 1101.44L1113.2 1101.44Z"/>
<circle cx="1123.5" cy="1096.74" r="4.7"/>
<circle cx="1051" cy="1103.52" r="4.7"/>
<circle cx="1073.5" cy="1103.52" r="4.7"/>
<rect x="1035.5" y="1105.7" width="9.2" height="9.2"/>
<circle cx="1045.9" cy="1110.3" r="4.7"/>
<rect x="1038.9" y="1112.48" width="9.2" height="9.2"/>
<circle cx="1029.8" cy="1130.64" r="4.7"/>
<rect x="1062.9" y="1126.04" width="9.2" height="9.2"/>
<circle cx="1082.5" cy="1130.64" r="4.7"/>
<rect x="1031.8" y="1132.82" width="9.2" height="9.2"/>
<circle cx="1048.7" cy="1137.42" r="4.7"/>
<circle cx="1038.1" cy="1144.2" r="4.7"/>
<circle cx="1048.1" cy="1144.2" r="4.7"/>
<circle cx="1039.5" cy="1150.98" r="4.7"/>
<circle cx="1098.4" cy="1150.98" r="4.7"/>
<path d="M1049.4 1153.06L1054.4 1162.46L1044.4 1162.46Z"/>
<circle cx="1052.5" cy="1157.76" r="4.7"/>
<circle cx="1040.4" cy="1164.54" r="4.7"/>
<rect x="1048.3" y="1159.94" width="9.2" height="9.2"/>
<circle cx="1074.4" cy="1164.54" r="4.7"/>
<circle cx="1120.1" cy="1164.54" r="4.7"/>
<circle cx="1060.7" cy="1178.1" r="4.7"/>
<rect x="1041.9" y="1180.28" width="9.2" height="9.2"/>
<circle cx="1056" cy="1184.88" r="4.7"/>
<circle cx="1063.5" cy="1184.88" r="4.7"/>
<circle cx="1040.4" cy="1191.66" r="4.7"/>
<circle cx="1061.5" cy="1191.66" r="4.7"/>
<rect x="1031.1" y="1193.84" width="9.2" height="9.2"/>
<circle cx="1067.5" cy="1198.44" r="4.7"/>
<circle cx="1102.2" cy="1198.44" r="4.7"/>
<rect x="1025.1" y="1200.62" width="9.2" height="9.2"/>
<path d="M1042.6 1200.52L1047.6 1209.92L1037.6 1209.92Z"/>
<circle cx="1060.7" cy="1205.22" r="4.7"/>
<circle cx="1079.4" cy="1205.22" r="4.7"/>
<circle cx="1045" cy="1218.78" r="4.7"/>
<circle cx="1049" cy="1218.78" r="4.7"/>
<path d="M1070.6 1214.08L1075.6 1223.48L1065.6 1223.48Z"/>
<circle cx="1081.9" cy="1218.78" r="4.7"/>
<circle cx="1038.8" cy="1225.56" r="4.7"/>
<path d="M1095.4 1227.64L1100.4 1237.04L1090.4 1237.04Z"/>
<path d="M1054.7 1234.42L1059.7 1243.82L1049.7 1243.82Z"/>
<circle cx="1054.7" cy="1239.12" r="4.7"/>
<rect x="1064.2" y="1234.52" width="9.2" height="9.2"/>
<path d="M1043.2 1241.2L1048.2 1250.6L1038.2 1250.6Z"/>
<rect x="1040.8" y="1248.08" width="9.2" height="9.2"/>
<rect x="1051.4" y="1248.08" width="9.2" height="9.2"/>
<circle cx="1097.5" cy="1252.68" r="4.7"/>
<circle cx="1047.6" cy="1259.46" r="4.7"/>
<circle cx="1053" cy="1259.46" r="4.7"/>
<circle cx="1061.8" cy="1259.46" r="4.7"/>
<circle cx="1067.5" cy="1259.46" r="4.7"/>
<circle cx="1074.5" cy="1259.46" r="4.7"/>
<rect x="1050.5" y="1261.64" width="9.2" height="9.2"/>
<circle cx="1094.4" cy="1266.24" r="4.7"/>
<circle cx="1034.4" cy="1273.02" r="4.7"/>
<circle cx="1048.5" cy="1273.02" r="4.7"/>
<circle cx="1068.2" cy="1273.02" r="4.7"/>
<circle cx="1122.6" cy="1273.02" r="4.7"/>
<circle cx="1049.4" cy="1279.8" r="4.7"/>
<path d="M1066.2 1275.1L1071.2 1284.5L1061.2 1284.5Z"/>
<path d="M1040.6 1281.88L1045.6 1291.28L1035.6 1291.28Z"/>
<circle cx="1037.5" cy="1286.58" r="4.7"/>
<circle cx="1048.5" cy="1286.58" r="4.7"/>
<circle cx="1078.8" cy="1286.58" r="4.7"/>
<circle cx="1110.3" cy="1293.36" r="4.7"/>
<circle cx="1040.4" cy="1300.14" r="4.7"/>
<rect x="1076.4" y="1295.54" width="9.2" height="9.2"/>
<rect x="1118" y="1295.54" width="9.2" height="9.2"/>
<circle cx="1063.1" cy="1306.92" r="4.7"/>
<circle cx="1069.2" cy="1306.92" r="4.7"/>
<rect x="1077" y="1302.32" width="9.2" height="9.2"/>
<circle cx="1120.9" cy="1306.92" r="4.7"/>
<circle cx="1038.8" cy="1313.7" r="4.7"/>
<circle cx="1044.1" cy="1313.7" r="4.7"/>
<circle cx="1049" cy="1313.7" r="4.7"/>
<circle cx="1058.4" cy="1313.7" r="4.7"/>
<rect x="1045.4" y="1322.66" width="9.2" height="9.2"/>
<circle cx="1075.7" cy="1340.82" r="4.7"/>
<circle cx="1133.6" cy="1340.82" r="4.7"/>
<circle cx="1060.7" cy="1347.6" r="4.7"/>
<circle cx="1146.7" cy="1347.6" r="4.7"/>
<circle cx="1107.4" cy="1354.38" r="4.7"/>
<rect x="1035.1" y="1370.12" width="9.2" height="9.2"/>
<circle cx="1054.7" cy="1388.28" r="4.7"/>
<rect x="1263.4" y="1390.46" width="9.2" height="9.2"/>
<rect x="1068.2" y="1404.02" width="9.2" height="9.2"/>
<circle cx="1120.1" cy="1408.62" r="4.7"/>
<circle cx="1169.9" cy="1408.62" r="4.7"/>
<circle cx="1153.2" cy="1435.74" r="4.7"/>
<circle cx="1190.9" cy="1442.52" r="4.7"/>
<circle cx="1045.6" cy="1456.08" r="4.7"/>
<circle cx="1052.5" cy="1469.64" r="4.7"/>
<circle cx="1123.2" cy="1469.64" r="4.7"/>
<circle cx="1211.9" cy="1035.72" r="4.7"/>
<circle cx="1579" cy="995.04" r="4.7"/>
</g>
<rect x="1010" y="878.8" width="270.3" height="31.2" fill="none" stroke="#000" stroke-width="2.2"/>
<text x="1014.4" y="901.7" font-size="19.3" text-anchor="start" >Bias = -2.878 [-32.44 to 26.69]</text>
<rect x="1007.9" y="913.4" width="152.9" height="80.6" fill="none" stroke="#000" stroke-width="2.2"/>
<circle cx="1023" cy="926.5" r="4.7"/>
<text x="1049.9" y="932.5" font-size="19.3" text-anchor="start" >1 day old</text>
<rect x="1018.4" y="948.2" width="9.2" height="9.2"/>
<text x="1049.9" y="959" font-size="19.3" text-anchor="start" >2 days old</text>
<path d="M1023 973.2L1028 982.6L1018 982.6Z"/>
<text x="1049.9" y="984.5" font-size="19.3" text-anchor="start" >3 days old</text>
<text x="1335" y="1616.7" font-size="19.9" text-anchor="middle" >Plasma Creatinine (µmol/L)</text>
<text x="945" y="1210.3" font-size="19.0" text-anchor="middle" transform="rotate(-90 945 1210.3)">Difference (µmol/L)</text>
<text x="2.7" y="1701" font-size="33.7" text-anchor="start" >D</text>
<rect x="84" y="1733.3" width="678" height="678.2" fill="none" stroke="#000" stroke-width="3.2" stroke-linejoin="miter"/>
<line x1="84" y1="2411.5" x2="84" y2="2421.5" stroke="#000" stroke-width="3.2" />
<text x="84" y="2441.7" font-size="19.3" text-anchor="middle" >0</text>
<line x1="112.25" y1="2411.5" x2="112.25" y2="2416.5" stroke="#000" stroke-width="3.2" />
<line x1="140.5" y1="2411.5" x2="140.5" y2="2421.5" stroke="#000" stroke-width="3.2" />
<text x="140.5" y="2441.7" font-size="19.3" text-anchor="middle" >10</text>
<line x1="168.75" y1="2411.5" x2="168.75" y2="2416.5" stroke="#000" stroke-width="3.2" />
<line x1="197" y1="2411.5" x2="197" y2="2421.5" stroke="#000" stroke-width="3.2" />
<text x="197" y="2441.7" font-size="19.3" text-anchor="middle" >20</text>
<line x1="225.25" y1="2411.5" x2="225.25" y2="2416.5" stroke="#000" stroke-width="3.2" />
<line x1="253.5" y1="2411.5" x2="253.5" y2="2421.5" stroke="#000" stroke-width="3.2" />
<text x="253.5" y="2441.7" font-size="19.3" text-anchor="middle" >30</text>
<line x1="281.75" y1="2411.5" x2="281.75" y2="2416.5" stroke="#000" stroke-width="3.2" />
<line x1="310" y1="2411.5" x2="310" y2="2421.5" stroke="#000" stroke-width="3.2" />
<text x="310" y="2441.7" font-size="19.3" text-anchor="middle" >40</text>
<line x1="338.25" y1="2411.5" x2="338.25" y2="2416.5" stroke="#000" stroke-width="3.2" />
<line x1="366.5" y1="2411.5" x2="366.5" y2="2421.5" stroke="#000" stroke-width="3.2" />
<text x="366.5" y="2441.7" font-size="19.3" text-anchor="middle" >50</text>
<line x1="394.75" y1="2411.5" x2="394.75" y2="2416.5" stroke="#000" stroke-width="3.2" />
<line x1="423" y1="2411.5" x2="423" y2="2421.5" stroke="#000" stroke-width="3.2" />
<text x="423" y="2441.7" font-size="19.3" text-anchor="middle" >60</text>
<line x1="451.25" y1="2411.5" x2="451.25" y2="2416.5" stroke="#000" stroke-width="3.2" />
<line x1="479.5" y1="2411.5" x2="479.5" y2="2421.5" stroke="#000" stroke-width="3.2" />
<text x="479.5" y="2441.7" font-size="19.3" text-anchor="middle" >70</text>
<line x1="507.75" y1="2411.5" x2="507.75" y2="2416.5" stroke="#000" stroke-width="3.2" />
<line x1="536" y1="2411.5" x2="536" y2="2421.5" stroke="#000" stroke-width="3.2" />
<text x="536" y="2441.7" font-size="19.3" text-anchor="middle" >80</text>
<line x1="564.25" y1="2411.5" x2="564.25" y2="2416.5" stroke="#000" stroke-width="3.2" />
<line x1="592.5" y1="2411.5" x2="592.5" y2="2421.5" stroke="#000" stroke-width="3.2" />
<text x="592.5" y="2441.7" font-size="19.3" text-anchor="middle" >90</text>
<line x1="620.75" y1="2411.5" x2="620.75" y2="2416.5" stroke="#000" stroke-width="3.2" />
<line x1="649" y1="2411.5" x2="649" y2="2421.5" stroke="#000" stroke-width="3.2" />
<text x="649" y="2441.7" font-size="19.3" text-anchor="middle" >100</text>
<line x1="677.25" y1="2411.5" x2="677.25" y2="2416.5" stroke="#000" stroke-width="3.2" />
<line x1="705.5" y1="2411.5" x2="705.5" y2="2421.5" stroke="#000" stroke-width="3.2" />
<text x="705.5" y="2441.7" font-size="19.3" text-anchor="middle" >110</text>
<line x1="733.75" y1="2411.5" x2="733.75" y2="2416.5" stroke="#000" stroke-width="3.2" />
<line x1="762" y1="2411.5" x2="762" y2="2421.5" stroke="#000" stroke-width="3.2" />
<text x="762" y="2441.7" font-size="19.3" text-anchor="middle" >120</text>
<line x1="74" y1="2411.5" x2="84" y2="2411.5" stroke="#000" stroke-width="3.2" />
<text x="71" y="2417.9" font-size="19.3" text-anchor="end" >0</text>
<line x1="79" y1="2383.24" x2="84" y2="2383.24" stroke="#000" stroke-width="3.2" />
<line x1="74" y1="2354.98" x2="84" y2="2354.98" stroke="#000" stroke-width="3.2" />
<text x="71" y="2361.38" font-size="19.3" text-anchor="end" >10</text>
<line x1="79" y1="2326.72" x2="84" y2="2326.72" stroke="#000" stroke-width="3.2" />
<line x1="74" y1="2298.47" x2="84" y2="2298.47" stroke="#000" stroke-width="3.2" />
<text x="71" y="2304.87" font-size="19.3" text-anchor="end" >20</text>
<line x1="79" y1="2270.21" x2="84" y2="2270.21" stroke="#000" stroke-width="3.2" />
<line x1="74" y1="2241.95" x2="84" y2="2241.95" stroke="#000" stroke-width="3.2" />
<text x="71" y="2248.35" font-size="19.3" text-anchor="end" >30</text>
<line x1="79" y1="2213.69" x2="84" y2="2213.69" stroke="#000" stroke-width="3.2" />
<line x1="74" y1="2185.43" x2="84" y2="2185.43" stroke="#000" stroke-width="3.2" />
<text x="71" y="2191.83" font-size="19.3" text-anchor="end" >40</text>
<line x1="79" y1="2157.18" x2="84" y2="2157.18" stroke="#000" stroke-width="3.2" />
<line x1="74" y1="2128.92" x2="84" y2="2128.92" stroke="#000" stroke-width="3.2" />
<text x="71" y="2135.32" font-size="19.3" text-anchor="end" >50</text>
<line x1="79" y1="2100.66" x2="84" y2="2100.66" stroke="#000" stroke-width="3.2" />
<line x1="74" y1="2072.4" x2="84" y2="2072.4" stroke="#000" stroke-width="3.2" />
<text x="71" y="2078.8" font-size="19.3" text-anchor="end" >60</text>
<line x1="79" y1="2044.14" x2="84" y2="2044.14" stroke="#000" stroke-width="3.2" />
<line x1="74" y1="2015.88" x2="84" y2="2015.88" stroke="#000" stroke-width="3.2" />
<text x="71" y="2022.28" font-size="19.3" text-anchor="end" >70</text>
<line x1="79" y1="1987.62" x2="84" y2="1987.62" stroke="#000" stroke-width="3.2" />
<line x1="74" y1="1959.37" x2="84" y2="1959.37" stroke="#000" stroke-width="3.2" />
<text x="71" y="1965.77" font-size="19.3" text-anchor="end" >80</text>
<line x1="79" y1="1931.11" x2="84" y2="1931.11" stroke="#000" stroke-width="3.2" />
<line x1="74" y1="1902.85" x2="84" y2="1902.85" stroke="#000" stroke-width="3.2" />
<text x="71" y="1909.25" font-size="19.3" text-anchor="end" >90</text>
<line x1="79" y1="1874.59" x2="84" y2="1874.59" stroke="#000" stroke-width="3.2" />
<line x1="74" y1="1846.33" x2="84" y2="1846.33" stroke="#000" stroke-width="3.2" />
<text x="71" y="1852.73" font-size="19.3" text-anchor="end" >100</text>
<line x1="79" y1="1818.07" x2="84" y2="1818.07" stroke="#000" stroke-width="3.2" />
<line x1="74" y1="1789.82" x2="84" y2="1789.82" stroke="#000" stroke-width="3.2" />
<text x="71" y="1796.22" font-size="19.3" text-anchor="end" >110</text>
<line x1="79" y1="1761.56" x2="84" y2="1761.56" stroke="#000" stroke-width="3.2" />
<line x1="74" y1="1733.3" x2="84" y2="1733.3" stroke="#000" stroke-width="3.2" />
<text x="71" y="1739.7" font-size="19.3" text-anchor="end" >120</text>
<g stroke="#ff0000" stroke-width="2.5" stroke-dasharray="4.4 7.05" stroke-linecap="round"><line x1="84" y1="2072.4" x2="762" y2="2072.4"/><line x1="423" y1="1733.3" x2="423" y2="2411.5"/></g>
<g>
<circle cx="117.9" cy="2377.59" r="4.7"/>
<rect x="152.85" y="2327.78" width="9.2" height="9.2"/>
<circle cx="168.75" cy="2338.03" r="4.7"/>
<circle cx="208.3" cy="2264.56" r="4.7"/>
<circle cx="213.95" cy="2258.9" r="4.7"/>
<circle cx="219.6" cy="2253.25" r="4.7"/>
<circle cx="236.55" cy="2275.86" r="4.7"/>
<circle cx="242.2" cy="2196.74" r="4.7"/>
<circle cx="242.2" cy="2219.34" r="4.7"/>
<circle cx="242.2" cy="2236.3" r="4.7"/>
<circle cx="247.85" cy="2230.65" r="4.7"/>
<circle cx="253.5" cy="2230.65" r="4.7"/>
<circle cx="253.5" cy="2247.6" r="4.7"/>
<rect x="277.15" y="2186.49" width="9.2" height="9.2"/>
<circle cx="315.65" cy="2168.48" r="4.7"/>
<circle cx="332.6" cy="2134.57" r="4.7"/>
<circle cx="332.6" cy="2179.78" r="4.7"/>
<circle cx="343.9" cy="2157.18" r="4.7"/>
<circle cx="349.55" cy="2095.01" r="4.7"/>
<rect x="344.95" y="2129.97" width="9.2" height="9.2"/>
<path d="M349.55 2169.43L354.55 2178.83L344.55 2178.83Z"/>
<rect x="356.25" y="1994.33" width="9.2" height="9.2"/>
<path d="M372.15 2073.35L377.15 2082.75L367.15 2082.75Z"/>
<circle cx="377.8" cy="2117.61" r="4.7"/>
<circle cx="383.45" cy="2117.61" r="4.7"/>
<circle cx="394.75" cy="2078.05" r="4.7"/>
<path d="M394.75 2084.66L399.75 2094.05L389.75 2094.05Z"/>
<circle cx="400.4" cy="2128.92" r="4.7"/>
<circle cx="406.05" cy="2106.31" r="4.7"/>
<circle cx="411.7" cy="1993.28" r="4.7"/>
<rect x="407.1" y="2022.59" width="9.2" height="9.2"/>
<circle cx="417.35" cy="2083.7" r="4.7"/>
<circle cx="423" cy="2083.7" r="4.7"/>
<circle cx="428.65" cy="2015.88" r="4.7"/>
<rect x="429.7" y="1994.33" width="9.2" height="9.2"/>
<circle cx="434.3" cy="2027.19" r="4.7"/>
<rect x="435.35" y="2084.76" width="9.2" height="9.2"/>
<circle cx="445.6" cy="2106.31" r="4.7"/>
<circle cx="451.25" cy="1965.02" r="4.7"/>
<path d="M462.55 2022.49L467.55 2031.89L457.55 2031.89Z"/>
<circle cx="479.5" cy="1942.41" r="4.7"/>
<circle cx="485.15" cy="2055.44" r="4.7"/>
<rect x="486.2" y="2113.01" width="9.2" height="9.2"/>
<rect x="491.85" y="2022.59" width="9.2" height="9.2"/>
<rect x="491.85" y="2039.54" width="9.2" height="9.2"/>
<rect x="491.85" y="2050.84" width="9.2" height="9.2"/>
<circle cx="502.1" cy="2015.88" r="4.7"/>
<circle cx="507.75" cy="2010.23" r="4.7"/>
<circle cx="507.75" cy="2061.1" r="4.7"/>
<circle cx="513.4" cy="1942.41" r="4.7"/>
<circle cx="513.4" cy="1987.62" r="4.7"/>
<circle cx="519.05" cy="1902.85" r="4.7"/>
<circle cx="519.05" cy="1919.81" r="4.7"/>
<circle cx="519.05" cy="1936.76" r="4.7"/>
<circle cx="519.05" cy="1998.93" r="4.7"/>
<circle cx="524.7" cy="1897.2" r="4.7"/>
<path d="M530.35 1892.5L535.35 1901.9L525.35 1901.9Z"/>
<circle cx="530.35" cy="1897.2" r="4.7"/>
<circle cx="530.35" cy="1993.28" r="4.7"/>
<circle cx="536" cy="2004.58" r="4.7"/>
<circle cx="541.65" cy="1897.2" r="4.7"/>
<circle cx="547.3" cy="1897.2" r="4.7"/>
<rect x="548.35" y="1892.6" width="9.2" height="9.2"/>
<circle cx="552.95" cy="1931.11" r="4.7"/>
<path d="M558.6 1994.23L563.6 2003.63L553.6 2003.63Z"/>
<rect x="559.65" y="1892.6" width="9.2" height="9.2"/>
<circle cx="569.9" cy="1897.2" r="4.7"/>
<circle cx="575.55" cy="1897.2" r="4.7"/>
<circle cx="575.55" cy="1908.5" r="4.7"/>
<circle cx="575.55" cy="1959.37" r="4.7"/>
<path d="M581.2 1909.45L586.2 1918.85L576.2 1918.85Z"/>
<circle cx="581.2" cy="1942.41" r="4.7"/>
<circle cx="581.2" cy="2004.58" r="4.7"/>
<circle cx="586.85" cy="1908.5" r="4.7"/>
<path d="M592.5 2011.18L597.5 2020.58L587.5 2020.58Z"/>
<rect x="593.55" y="1892.6" width="9.2" height="9.2"/>
<circle cx="598.15" cy="1908.5" r="4.7"/>
<circle cx="598.15" cy="1919.81" r="4.7"/>
<circle cx="598.15" cy="1942.41" r="4.7"/>
<circle cx="598.15" cy="1976.32" r="4.7"/>
<rect x="593.55" y="1977.37" width="9.2" height="9.2"/>
<circle cx="598.15" cy="2004.58" r="4.7"/>
<circle cx="598.15" cy="2015.88" r="4.7"/>
<circle cx="326.95" cy="2100.66" r="4.7"/>
</g>
<line x1="84" y1="2411.5" x2="762" y2="1733.3" stroke="#ff0000" stroke-width="2.7" />
<line x1="84" y1="2397.24" x2="762" y2="1740.07" stroke="#000" stroke-width="4" />
<rect x="94.7" y="1737.7" width="299.5" height="77.8" fill="none" stroke="#000" stroke-width="2.6"/>
<text x="100.1" y="1763.6" font-size="19.3">R<tspan font-size="15.8" dx="-1.3" dy="-8.6">2</tspan><tspan dy="8.6" dx="-1.2"> </tspan>= 0.858 [0.802 to 0.914]</text>
<text x="100.1" y="1785.7" font-size="19.3" text-anchor="start" >Slope = 0.969 [0.930 to 1.008]</text>
<text x="100.1" y="1807.5" font-size="19.3" text-anchor="start" >Y-intercept = 2.523 [-0.37 to 5.42]</text>
<rect x="94.7" y="1823.6" width="152.8" height="81" fill="none" stroke="#000" stroke-width="2.6"/>
<circle cx="110.3" cy="1836.6" r="4.7"/>
<text x="137.1" y="1843.5" font-size="19.3" text-anchor="start" >1 day old</text>
<rect x="105.7" y="1857" width="9.2" height="9.2"/>
<text x="137.1" y="1869" font-size="19.3" text-anchor="start" >2 days old</text>
<path d="M110.3 1882.3L115.3 1891.7L105.3 1891.7Z"/>
<text x="137.1" y="1894.7" font-size="19.3" text-anchor="start" >3 days old</text>
<rect x="655.3" y="1909.3" width="62.9" height="53.8" fill="none" stroke="#000" stroke-width="2.5"/>
<text x="684.3" y="1931.9" font-size="19.3" text-anchor="middle" >&gt; 90</text>
<text x="686.7" y="1953.9" font-size="19.3" text-anchor="middle" >n = 37</text>
<line x1="654.1" y1="1924.8" x2="618" y2="1905" stroke="#000" stroke-width="3.2" />
<path d="M609.9 1900.4 L628 1903.3 L621.8 1914.6 Z"/>
<text x="423" y="2478.9" font-size="19.9" text-anchor="middle" >Plasma eGFR (mL/min/1,73 m²)</text>
<text x="27" y="2068.1" font-size="19.3" text-anchor="middle" transform="rotate(-90 27 2068.1)">DBS eGFR (mL/min/1,73 m²)</text>
<text x="922.4" y="1700.8" font-size="33.7" text-anchor="start" >E</text>
<rect x="1002.5" y="1733.3" width="677.8" height="678.2" fill="none" stroke="#000" stroke-width="2.4" stroke-linejoin="miter"/>
<line x1="1002.5" y1="2411.5" x2="1002.5" y2="2421.5" stroke="#000" stroke-width="2.4" />
<text x="1002.5" y="2440.5" font-size="19.3" text-anchor="middle" >0</text>
<line x1="1030.74" y1="2411.5" x2="1030.74" y2="2416.5" stroke="#000" stroke-width="2.4" />
<line x1="1058.98" y1="2411.5" x2="1058.98" y2="2421.5" stroke="#000" stroke-width="2.4" />
<text x="1058.98" y="2440.5" font-size="19.3" text-anchor="middle" >10</text>
<line x1="1087.22" y1="2411.5" x2="1087.22" y2="2416.5" stroke="#000" stroke-width="2.4" />
<line x1="1115.47" y1="2411.5" x2="1115.47" y2="2421.5" stroke="#000" stroke-width="2.4" />
<text x="1115.47" y="2440.5" font-size="19.3" text-anchor="middle" >20</text>
<line x1="1143.71" y1="2411.5" x2="1143.71" y2="2416.5" stroke="#000" stroke-width="2.4" />
<line x1="1171.95" y1="2411.5" x2="1171.95" y2="2421.5" stroke="#000" stroke-width="2.4" />
<text x="1171.95" y="2440.5" font-size="19.3" text-anchor="middle" >30</text>
<line x1="1200.19" y1="2411.5" x2="1200.19" y2="2416.5" stroke="#000" stroke-width="2.4" />
<line x1="1228.43" y1="2411.5" x2="1228.43" y2="2421.5" stroke="#000" stroke-width="2.4" />
<text x="1228.43" y="2440.5" font-size="19.3" text-anchor="middle" >40</text>
<line x1="1256.67" y1="2411.5" x2="1256.67" y2="2416.5" stroke="#000" stroke-width="2.4" />
<line x1="1284.92" y1="2411.5" x2="1284.92" y2="2421.5" stroke="#000" stroke-width="2.4" />
<text x="1284.92" y="2440.5" font-size="19.3" text-anchor="middle" >50</text>
<line x1="1313.16" y1="2411.5" x2="1313.16" y2="2416.5" stroke="#000" stroke-width="2.4" />
<line x1="1341.4" y1="2411.5" x2="1341.4" y2="2421.5" stroke="#000" stroke-width="2.4" />
<text x="1341.4" y="2440.5" font-size="19.3" text-anchor="middle" >60</text>
<line x1="1369.64" y1="2411.5" x2="1369.64" y2="2416.5" stroke="#000" stroke-width="2.4" />
<line x1="1397.88" y1="2411.5" x2="1397.88" y2="2421.5" stroke="#000" stroke-width="2.4" />
<text x="1397.88" y="2440.5" font-size="19.3" text-anchor="middle" >70</text>
<line x1="1426.12" y1="2411.5" x2="1426.12" y2="2416.5" stroke="#000" stroke-width="2.4" />
<line x1="1454.37" y1="2411.5" x2="1454.37" y2="2421.5" stroke="#000" stroke-width="2.4" />
<text x="1454.37" y="2440.5" font-size="19.3" text-anchor="middle" >80</text>
<line x1="1482.61" y1="2411.5" x2="1482.61" y2="2416.5" stroke="#000" stroke-width="2.4" />
<line x1="1510.85" y1="2411.5" x2="1510.85" y2="2421.5" stroke="#000" stroke-width="2.4" />
<text x="1510.85" y="2440.5" font-size="19.3" text-anchor="middle" >90</text>
<line x1="1539.09" y1="2411.5" x2="1539.09" y2="2416.5" stroke="#000" stroke-width="2.4" />
<line x1="1567.33" y1="2411.5" x2="1567.33" y2="2421.5" stroke="#000" stroke-width="2.4" />
<text x="1567.33" y="2440.5" font-size="19.3" text-anchor="middle" >100</text>
<line x1="1595.57" y1="2411.5" x2="1595.57" y2="2416.5" stroke="#000" stroke-width="2.4" />
<line x1="1623.82" y1="2411.5" x2="1623.82" y2="2421.5" stroke="#000" stroke-width="2.4" />
<text x="1623.82" y="2440.5" font-size="19.3" text-anchor="middle" >110</text>
<line x1="1652.06" y1="2411.5" x2="1652.06" y2="2416.5" stroke="#000" stroke-width="2.4" />
<line x1="1680.3" y1="2411.5" x2="1680.3" y2="2421.5" stroke="#000" stroke-width="2.4" />
<text x="1680.3" y="2440.5" font-size="19.3" text-anchor="middle" >120</text>
<line x1="992.5" y1="2411.5" x2="1002.5" y2="2411.5" stroke="#000" stroke-width="2.4" />
<text x="990" y="2417.9" font-size="19.3" text-anchor="end" >-30</text>
<line x1="997.5" y1="2383.24" x2="1002.5" y2="2383.24" stroke="#000" stroke-width="2.4" />
<line x1="992.5" y1="2354.98" x2="1002.5" y2="2354.98" stroke="#000" stroke-width="2.4" />
<text x="990" y="2361.38" font-size="19.3" text-anchor="end" >-25</text>
<line x1="997.5" y1="2326.72" x2="1002.5" y2="2326.72" stroke="#000" stroke-width="2.4" />
<line x1="992.5" y1="2298.47" x2="1002.5" y2="2298.47" stroke="#000" stroke-width="2.4" />
<text x="990" y="2304.87" font-size="19.3" text-anchor="end" >-20</text>
<line x1="997.5" y1="2270.21" x2="1002.5" y2="2270.21" stroke="#000" stroke-width="2.4" />
<line x1="992.5" y1="2241.95" x2="1002.5" y2="2241.95" stroke="#000" stroke-width="2.4" />
<text x="990" y="2248.35" font-size="19.3" text-anchor="end" >-15</text>
<line x1="997.5" y1="2213.69" x2="1002.5" y2="2213.69" stroke="#000" stroke-width="2.4" />
<line x1="992.5" y1="2185.43" x2="1002.5" y2="2185.43" stroke="#000" stroke-width="2.4" />
<text x="990" y="2191.83" font-size="19.3" text-anchor="end" >-10</text>
<line x1="997.5" y1="2157.18" x2="1002.5" y2="2157.18" stroke="#000" stroke-width="2.4" />
<line x1="992.5" y1="2128.92" x2="1002.5" y2="2128.92" stroke="#000" stroke-width="2.4" />
<text x="990" y="2135.32" font-size="19.3" text-anchor="end" >-5</text>
<line x1="997.5" y1="2100.66" x2="1002.5" y2="2100.66" stroke="#000" stroke-width="2.4" />
<line x1="992.5" y1="2072.4" x2="1002.5" y2="2072.4" stroke="#000" stroke-width="2.4" />
<text x="990" y="2078.8" font-size="19.3" text-anchor="end" >0</text>
<line x1="997.5" y1="2044.14" x2="1002.5" y2="2044.14" stroke="#000" stroke-width="2.4" />
<line x1="992.5" y1="2015.88" x2="1002.5" y2="2015.88" stroke="#000" stroke-width="2.4" />
<text x="990" y="2022.28" font-size="19.3" text-anchor="end" >5</text>
<line x1="997.5" y1="1987.62" x2="1002.5" y2="1987.62" stroke="#000" stroke-width="2.4" />
<line x1="992.5" y1="1959.37" x2="1002.5" y2="1959.37" stroke="#000" stroke-width="2.4" />
<text x="990" y="1965.77" font-size="19.3" text-anchor="end" >10</text>
<line x1="997.5" y1="1931.11" x2="1002.5" y2="1931.11" stroke="#000" stroke-width="2.4" />
<line x1="992.5" y1="1902.85" x2="1002.5" y2="1902.85" stroke="#000" stroke-width="2.4" />
<text x="990" y="1909.25" font-size="19.3" text-anchor="end" >15</text>
<line x1="997.5" y1="1874.59" x2="1002.5" y2="1874.59" stroke="#000" stroke-width="2.4" />
<line x1="992.5" y1="1846.33" x2="1002.5" y2="1846.33" stroke="#000" stroke-width="2.4" />
<text x="990" y="1852.73" font-size="19.3" text-anchor="end" >20</text>
<line x1="997.5" y1="1818.07" x2="1002.5" y2="1818.07" stroke="#000" stroke-width="2.4" />
<line x1="992.5" y1="1789.82" x2="1002.5" y2="1789.82" stroke="#000" stroke-width="2.4" />
<text x="990" y="1796.22" font-size="19.3" text-anchor="end" >25</text>
<line x1="997.5" y1="1761.56" x2="1002.5" y2="1761.56" stroke="#000" stroke-width="2.4" />
<line x1="992.5" y1="1733.3" x2="1002.5" y2="1733.3" stroke="#000" stroke-width="2.4" />
<text x="990" y="1739.7" font-size="19.3" text-anchor="end" >30</text>
<g><circle cx="1002.6" cy="1937.1" r="1.95"/><circle cx="1012.93" cy="1937.1" r="1.95"/><circle cx="1023.26" cy="1937.1" r="1.95"/><circle cx="1033.59" cy="1937.1" r="1.95"/><circle cx="1043.92" cy="1937.1" r="1.95"/><circle cx="1054.25" cy="1937.1" r="1.95"/><circle cx="1064.58" cy="1937.1" r="1.95"/><circle cx="1074.91" cy="1937.1" r="1.95"/><circle cx="1085.24" cy="1937.1" r="1.95"/><circle cx="1095.57" cy="1937.1" r="1.95"/><circle cx="1105.9" cy="1937.1" r="1.95"/><circle cx="1116.23" cy="1937.1" r="1.95"/><circle cx="1126.56" cy="1937.1" r="1.95"/><circle cx="1136.89" cy="1937.1" r="1.95"/><circle cx="1147.22" cy="1937.1" r="1.95"/><circle cx="1157.55" cy="1937.1" r="1.95"/><circle cx="1167.88" cy="1937.1" r="1.95"/><circle cx="1178.21" cy="1937.1" r="1.95"/><circle cx="1188.54" cy="1937.1" r="1.95"/><circle cx="1198.87" cy="1937.1" r="1.95"/><circle cx="1209.2" cy="1937.1" r="1.95"/><circle cx="1219.53" cy="1937.1" r="1.95"/><circle cx="1229.86" cy="1937.1" r="1.95"/><circle cx="1240.19" cy="1937.1" r="1.95"/><circle cx="1250.52" cy="1937.1" r="1.95"/><circle cx="1260.85" cy="1937.1" r="1.95"/><circle cx="1271.18" cy="1937.1" r="1.95"/><circle cx="1281.51" cy="1937.1" r="1.95"/><circle cx="1291.84" cy="1937.1" r="1.95"/><circle cx="1302.17" cy="1937.1" r="1.95"/><circle cx="1312.5" cy="1937.1" r="1.95"/><circle cx="1322.83" cy="1937.1" r="1.95"/><circle cx="1333.16" cy="1937.1" r="1.95"/><circle cx="1343.49" cy="1937.1" r="1.95"/><circle cx="1353.82" cy="1937.1" r="1.95"/><circle cx="1364.15" cy="1937.1" r="1.95"/><circle cx="1374.48" cy="1937.1" r="1.95"/><circle cx="1384.81" cy="1937.1" r="1.95"/><circle cx="1395.14" cy="1937.1" r="1.95"/><circle cx="1405.47" cy="1937.1" r="1.95"/><circle cx="1415.8" cy="1937.1" r="1.95"/><circle cx="1426.13" cy="1937.1" r="1.95"/><circle cx="1436.46" cy="1937.1" r="1.95"/><circle cx="1446.79" cy="1937.1" r="1.95"/><circle cx="1457.12" cy="1937.1" r="1.95"/><circle cx="1467.45" cy="1937.1" r="1.95"/><circle cx="1477.78" cy="1937.1" r="1.95"/><circle cx="1488.11" cy="1937.1" r="1.95"/><circle cx="1498.44" cy="1937.1" r="1.95"/><circle cx="1508.77" cy="1937.1" r="1.95"/><circle cx="1519.1" cy="1937.1" r="1.95"/><circle cx="1529.43" cy="1937.1" r="1.95"/><circle cx="1539.76" cy="1937.1" r="1.95"/><circle cx="1550.09" cy="1937.1" r="1.95"/><circle cx="1560.42" cy="1937.1" r="1.95"/><circle cx="1570.75" cy="1937.1" r="1.95"/><circle cx="1581.08" cy="1937.1" r="1.95"/><circle cx="1591.41" cy="1937.1" r="1.95"/><circle cx="1601.74" cy="1937.1" r="1.95"/><circle cx="1612.07" cy="1937.1" r="1.95"/><circle cx="1622.4" cy="1937.1" r="1.95"/><circle cx="1632.73" cy="1937.1" r="1.95"/><circle cx="1643.06" cy="1937.1" r="1.95"/><circle cx="1653.39" cy="1937.1" r="1.95"/><circle cx="1663.72" cy="1937.1" r="1.95"/><circle cx="1674.05" cy="1937.1" r="1.95"/></g>
<g><circle cx="1002.6" cy="2210.4" r="1.95"/><circle cx="1012.93" cy="2210.4" r="1.95"/><circle cx="1023.26" cy="2210.4" r="1.95"/><circle cx="1033.59" cy="2210.4" r="1.95"/><circle cx="1043.92" cy="2210.4" r="1.95"/><circle cx="1054.25" cy="2210.4" r="1.95"/><circle cx="1064.58" cy="2210.4" r="1.95"/><circle cx="1074.91" cy="2210.4" r="1.95"/><circle cx="1085.24" cy="2210.4" r="1.95"/><circle cx="1095.57" cy="2210.4" r="1.95"/><circle cx="1105.9" cy="2210.4" r="1.95"/><circle cx="1116.23" cy="2210.4" r="1.95"/><circle cx="1126.56" cy="2210.4" r="1.95"/><circle cx="1136.89" cy="2210.4" r="1.95"/><circle cx="1147.22" cy="2210.4" r="1.95"/><circle cx="1157.55" cy="2210.4" r="1.95"/><circle cx="1167.88" cy="2210.4" r="1.95"/><circle cx="1178.21" cy="2210.4" r="1.95"/><circle cx="1188.54" cy="2210.4" r="1.95"/><circle cx="1198.87" cy="2210.4" r="1.95"/><circle cx="1209.2" cy="2210.4" r="1.95"/><circle cx="1219.53" cy="2210.4" r="1.95"/><circle cx="1229.86" cy="2210.4" r="1.95"/><circle cx="1240.19" cy="2210.4" r="1.95"/><circle cx="1250.52" cy="2210.4" r="1.95"/><circle cx="1260.85" cy="2210.4" r="1.95"/><circle cx="1271.18" cy="2210.4" r="1.95"/><circle cx="1281.51" cy="2210.4" r="1.95"/><circle cx="1291.84" cy="2210.4" r="1.95"/><circle cx="1302.17" cy="2210.4" r="1.95"/><circle cx="1312.5" cy="2210.4" r="1.95"/><circle cx="1322.83" cy="2210.4" r="1.95"/><circle cx="1333.16" cy="2210.4" r="1.95"/><circle cx="1343.49" cy="2210.4" r="1.95"/><circle cx="1353.82" cy="2210.4" r="1.95"/><circle cx="1364.15" cy="2210.4" r="1.95"/><circle cx="1374.48" cy="2210.4" r="1.95"/><circle cx="1384.81" cy="2210.4" r="1.95"/><circle cx="1395.14" cy="2210.4" r="1.95"/><circle cx="1405.47" cy="2210.4" r="1.95"/><circle cx="1415.8" cy="2210.4" r="1.95"/><circle cx="1426.13" cy="2210.4" r="1.95"/><circle cx="1436.46" cy="2210.4" r="1.95"/><circle cx="1446.79" cy="2210.4" r="1.95"/><circle cx="1457.12" cy="2210.4" r="1.95"/><circle cx="1467.45" cy="2210.4" r="1.95"/><circle cx="1477.78" cy="2210.4" r="1.95"/><circle cx="1488.11" cy="2210.4" r="1.95"/><circle cx="1498.44" cy="2210.4" r="1.95"/><circle cx="1508.77" cy="2210.4" r="1.95"/><circle cx="1519.1" cy="2210.4" r="1.95"/><circle cx="1529.43" cy="2210.4" r="1.95"/><circle cx="1539.76" cy="2210.4" r="1.95"/><circle cx="1550.09" cy="2210.4" r="1.95"/><circle cx="1560.42" cy="2210.4" r="1.95"/><circle cx="1570.75" cy="2210.4" r="1.95"/><circle cx="1581.08" cy="2210.4" r="1.95"/><circle cx="1591.41" cy="2210.4" r="1.95"/><circle cx="1601.74" cy="2210.4" r="1.95"/><circle cx="1612.07" cy="2210.4" r="1.95"/><circle cx="1622.4" cy="2210.4" r="1.95"/><circle cx="1632.73" cy="2210.4" r="1.95"/><circle cx="1643.06" cy="2210.4" r="1.95"/><circle cx="1653.39" cy="2210.4" r="1.95"/><circle cx="1663.72" cy="2210.4" r="1.95"/><circle cx="1674.05" cy="2210.4" r="1.95"/></g>
<line x1="1002.5" y1="2073.8" x2="1680.3" y2="2073.8" stroke="#000" stroke-width="3.3" />
<g>
<circle cx="1036.39" cy="2072.4" r="4.7"/>
<rect x="1071.33" y="2056.5" width="9.2" height="9.2"/>
<circle cx="1087.22" cy="2083.7" r="4.7"/>
<circle cx="1126.76" cy="2027.19" r="4.7"/>
<circle cx="1132.41" cy="2027.19" r="4.7"/>
<circle cx="1138.06" cy="2038.49" r="4.7"/>
<circle cx="1155.01" cy="2106.31" r="4.7"/>
<circle cx="1160.65" cy="1959.37" r="4.7"/>
<circle cx="1160.65" cy="2004.58" r="4.7"/>
<circle cx="1160.65" cy="2027.19" r="4.7"/>
<circle cx="1166.3" cy="2038.49" r="4.7"/>
<circle cx="1171.95" cy="2049.79" r="4.7"/>
<circle cx="1171.95" cy="2095.01" r="4.7"/>
<rect x="1195.59" y="2022.59" width="9.2" height="9.2"/>
<circle cx="1234.08" cy="2049.79" r="4.7"/>
<circle cx="1251.03" cy="2015.88" r="4.7"/>
<circle cx="1251.03" cy="2106.31" r="4.7"/>
<circle cx="1262.32" cy="2083.7" r="4.7"/>
<circle cx="1267.97" cy="1970.67" r="4.7"/>
<rect x="1263.37" y="2045.19" width="9.2" height="9.2"/>
<path d="M1267.97 2124.22L1272.97 2133.62L1262.97 2133.62Z"/>
<rect x="1274.67" y="1796.52" width="9.2" height="9.2"/>
<path d="M1290.57 1977.27L1295.57 1986.67L1285.57 1986.67Z"/>
<circle cx="1296.21" cy="2061.1" r="4.7"/>
<circle cx="1301.86" cy="2083.7" r="4.7"/>
<circle cx="1313.16" cy="2027.19" r="4.7"/>
<path d="M1313.16 2045.09L1318.16 2054.49L1308.16 2054.49Z"/>
<circle cx="1318.81" cy="2140.22" r="4.7"/>
<circle cx="1324.45" cy="2106.31" r="4.7"/>
<circle cx="1330.1" cy="1891.55" r="4.7"/>
<rect x="1325.5" y="1954.77" width="9.2" height="9.2"/>
<circle cx="1335.75" cy="2083.7" r="4.7"/>
<circle cx="1341.4" cy="2095.01" r="4.7"/>
<circle cx="1347.05" cy="1981.97" r="4.7"/>
<rect x="1348.1" y="1943.46" width="9.2" height="9.2"/>
<circle cx="1352.7" cy="2015.88" r="4.7"/>
<rect x="1353.75" y="2146.92" width="9.2" height="9.2"/>
<circle cx="1363.99" cy="2185.43" r="4.7"/>
<circle cx="1369.64" cy="1914.15" r="4.7"/>
<path d="M1380.94 2056.4L1385.94 2065.8L1375.94 2065.8Z"/>
<circle cx="1397.88" cy="1925.46" r="4.7"/>
<circle cx="1403.53" cy="2162.83" r="4.7"/>
<rect x="1404.58" y="2293.87" width="9.2" height="9.2"/>
<rect x="1410.23" y="2124.32" width="9.2" height="9.2"/>
<rect x="1410.23" y="2146.92" width="9.2" height="9.2"/>
<rect x="1410.23" y="2180.83" width="9.2" height="9.2"/>
<circle cx="1420.48" cy="2117.61" r="4.7"/>
<circle cx="1426.12" cy="2128.92" r="4.7"/>
<circle cx="1426.12" cy="2219.34" r="4.7"/>
<circle cx="1431.77" cy="1993.28" r="4.7"/>
<circle cx="1431.77" cy="2095.01" r="4.7"/>
<circle cx="1437.42" cy="1914.15" r="4.7"/>
<circle cx="1437.42" cy="1959.37" r="4.7"/>
<circle cx="1437.42" cy="1993.28" r="4.7"/>
<circle cx="1437.42" cy="2117.61" r="4.7"/>
<circle cx="1443.07" cy="1925.46" r="4.7"/>
<path d="M1448.72 1932.06L1453.72 1941.46L1443.72 1941.46Z"/>
<circle cx="1448.72" cy="1936.76" r="4.7"/>
<circle cx="1448.72" cy="2140.22" r="4.7"/>
<circle cx="1454.37" cy="2162.83" r="4.7"/>
<circle cx="1460.01" cy="1959.37" r="4.7"/>
<circle cx="1465.66" cy="1970.67" r="4.7"/>
<rect x="1466.71" y="1977.37" width="9.2" height="9.2"/>
<circle cx="1471.31" cy="2049.79" r="4.7"/>
<path d="M1476.96 2180.73L1481.96 2190.13L1471.96 2190.13Z"/>
<rect x="1478.01" y="1999.98" width="9.2" height="9.2"/>
<circle cx="1488.26" cy="2015.88" r="4.7"/>
<circle cx="1493.9" cy="2027.19" r="4.7"/>
<circle cx="1493.9" cy="2049.79" r="4.7"/>
<circle cx="1493.9" cy="2162.83" r="4.7"/>
<path d="M1499.55 2079L1504.55 2088.4L1494.55 2088.4Z"/>
<circle cx="1499.55" cy="2128.92" r="4.7"/>
<circle cx="1499.55" cy="2253.25" r="4.7"/>
<circle cx="1505.2" cy="2061.1" r="4.7"/>
<path d="M1510.85 2282.46L1515.85 2291.86L1505.85 2291.86Z"/>
<rect x="1511.9" y="2067.8" width="9.2" height="9.2"/>
<circle cx="1516.5" cy="2095.01" r="4.7"/>
<circle cx="1516.5" cy="2117.61" r="4.7"/>
<circle cx="1516.5" cy="2162.83" r="4.7"/>
<circle cx="1516.5" cy="2230.65" r="4.7"/>
<rect x="1511.9" y="2237.35" width="9.2" height="9.2"/>
<circle cx="1516.5" cy="2287.16" r="4.7"/>
<circle cx="1516.5" cy="2309.77" r="4.7"/>
</g>
<rect x="1014.6" y="1739.6" width="263.9" height="30.2" fill="none" stroke="#000" stroke-width="2.2"/>
<text x="1019.7" y="1761.6" font-size="19.3" text-anchor="start" >Bias = 0.313 [-15.05 to 15.67]</text>
<rect x="1014.6" y="1774.9" width="152.3" height="79.9" fill="none" stroke="#000" stroke-width="2.2"/>
<circle cx="1029.7" cy="1788.5" r="4.7"/>
<text x="1056.7" y="1794.3" font-size="19.3" text-anchor="start" >1 day old</text>
<rect x="1025.1" y="1808.1" width="9.2" height="9.2"/>
<text x="1056.7" y="1819.5" font-size="19.3" text-anchor="start" >2 days old</text>
<path d="M1029.7 1833.2L1034.7 1842.6L1024.7 1842.6Z"/>
<text x="1056.7" y="1844.5" font-size="19.3" text-anchor="start" >3 days old</text>
<rect x="1580.7" y="2101" width="62.6" height="53.2" fill="none" stroke="#000" stroke-width="2.2"/>
<text x="1609.5" y="2123.4" font-size="19.3" text-anchor="middle" >&gt; 90</text>
<text x="1611.7" y="2145.4" font-size="19.3" text-anchor="middle" >n = 37</text>
<line x1="1579.1" y1="2113.7" x2="1538" y2="2085.5" stroke="#000" stroke-width="3.2" />
<path d="M1530.6 2080.6 L1547.8 2084.6 L1540.5 2095.6 Z"/>
<text x="1341.4" y="2471.55" font-size="19.9" text-anchor="middle" >Plasma eGFR (mL/min/1,73 m²)</text>
<text x="952" y="2070.7" font-size="19.3" text-anchor="middle" transform="rotate(-90 952 2070.7)">Difference (mL/min/1,73 m²)</text>
</svg>
</body></html>
